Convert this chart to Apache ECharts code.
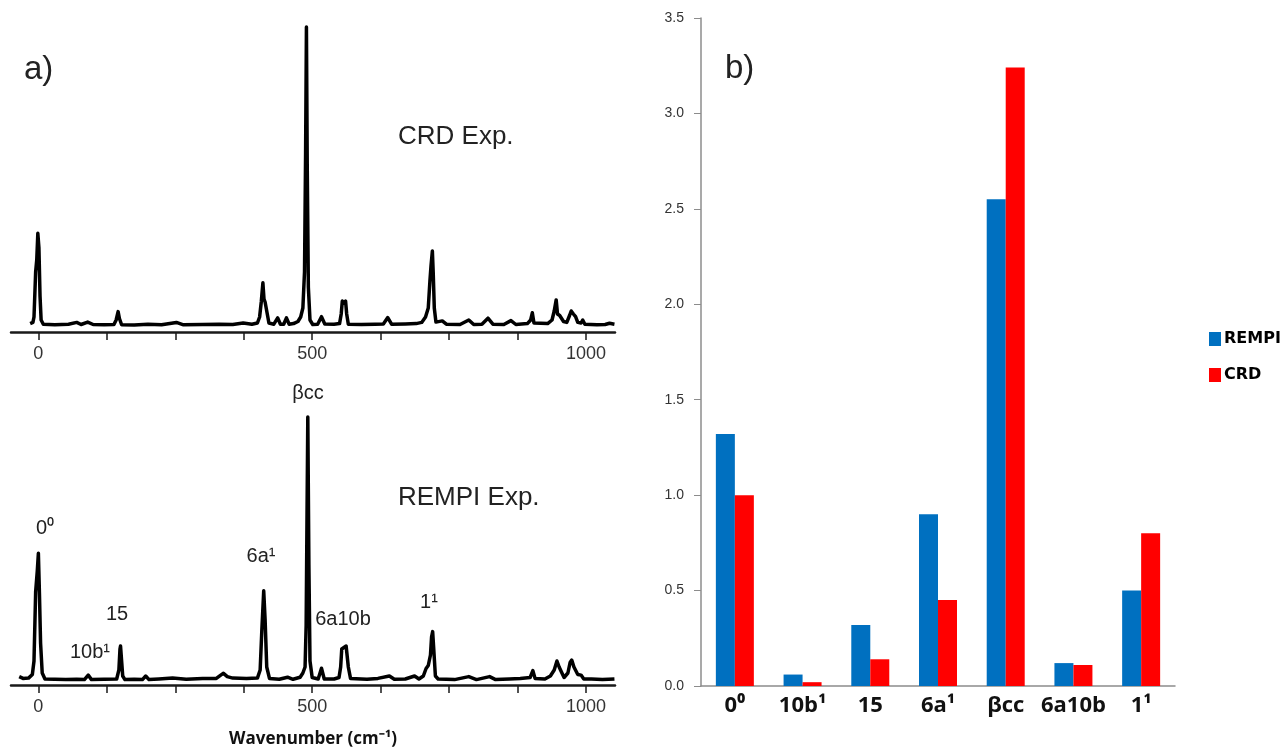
<!DOCTYPE html>
<html>
<head>
<meta charset="utf-8">
<script src="https://cdn.jsdelivr.net/npm/echarts@6/dist/echarts.min.js"></script>
<style>
html,body{margin:0;padding:0;background:#fff;}
#chart{width:1283px;height:755px;}
</style>
</head>
<body>
<div id="chart"></div>
<script>
// ---------- Panel a) spectra: [wavenumber (cm-1), intensity (a.u.)] ----------
const crdSpectrum = [
[-15,2.8],[-10,3.2],[-8,5],[-5,20],[-3,24],[-1,32.9],[1,28],[3,12],[5,4],[9,2.6],
[30,2.4],[55,2.6],[70,3.2],[78,2.5],[90,3.3],[100,2.5],[120,2.4],
[138,2.5],[142,4],[145.6,6.8],[148,4.5],[152,2.4],
[175,2.3],[200,2.6],[225,2.4],[252,3.2],[265,2.4],[300,2.5],[330,2.6],[355,2.5],[374,3],[390,2.6],
[400,3],[404,5],[407,10],[410,16.4],[412,11],[414,10],[416,10.5],[418,6],[421,3],
[430,2.6],[437,4.7],[442,2.6],[448,2.6],[453,4.7],[458,2.6],[466,2.8],
[474,3.5],[479,5],[483,8],[486,20],[488,60],[489.5,101.7],[491,55],[493,15],[496,4],[501,2.5],
[510,2.6],[517,5.1],[523,2.7],[540,2.6],[550,2.8],[553,6],[555,10.3],[558,9.6],[561,10.3],[563,6],[566,2.6],
[590,2.5],[615,2.6],[630,2.7],[638,4.8],[645,2.6],[670,2.7],[690,2.8],[700,3.2],
[707,5],[712,8],[715,17],[717,22],[719.5,27],[721,20],[723,8],[726,3.3],
[737.6,3.7],[745,2.6],[770,2.5],[786,4],[795,2.5],[810,2.6],[821,4.6],[830,2.6],[850,2.5],[863,3.8],[872,2.5],
[893,2.8],[899,4],[902,6.4],[905,3],
[930,2.8],[938,4],[942,7],[945.6,10.7],[948,6],[952,5.5],[955,5.1],[959,3.5],[965,3.2],[970,5.5],[973,7],[977,6],[981,5.1],[985,3.2],[991,3],[994,4],[998,2.6],
[1020,2.4],[1035,2.5],[1043,2.9],[1052,2.6]
];
const rempiSpectrum = [
[-35,2.8],[-28,2.2],[-18,2.3],[-11,3.5],[-8,8],[-5,31],[-2,38],[0,43.9],[2,30],[4,14],[7,4],[12,2],
[30,1.9],[50,1.8],[70,1.9],[84,1.8],[91,3.3],[97,1.8],[120,1.9],
[143,2],[147,5],[149,12],[150,13],[152,8],[154,3],[158,1.8],
[175,1.9],[190,1.8],[196,3],[202,1.8],[220,2],[245,2.3],[270,1.9],[300,2.2],[325,2.2],[333,3.3],[338,3.9],[345,2.8],[355,2.3],[380,2.2],
[400,2.3],[405,5],[408,18],[411.5,31.4],[414,22],[417,6],[422,2.2],
[440,1.9],[455,2.6],[465,1.9],[478,2.6],[483,4],[487,6],[489,20],[492,89.3],[494,40],[496,8],[500,2.5],
[511,2],[517,5.6],[522,2],[540,2],[549,2.5],[552,6],[554,12],[558,12.5],[562,13],[566,6],[570,2.2],
[600,1.9],[620,2.2],[641,3],[650,1.9],[670,2],[687,3],[695,2],[703,3],[708,5.5],[712,6.5],[716,10],[718,16],[720,17.8],[722,12],[725,3],[730,2],
[760,1.8],[786,2.8],[800,1.8],[824,2.8],[835,1.8],[860,2],[880,2.2],[898,2.5],[903,4.8],[907,2.2],
[925,2],[935,3],[942,5],[947,8],[951,6],[955,4.4],[960,2.5],[967,4],[971,7.5],[974,8.3],[978,6],[985,3.5],[991,3.3],[996,2],
[1010,2],[1030,1.8],[1052,2]
];
const spectrumTickValues = [0,125,250,375,500,625,750,875,1000];
const spectrumLabelValues = [0,500,1000];

// ---------- Panel b) bar chart ----------
const bandCategories = ['0⁰','10b¹','15','6a¹','βcc','6a10b','1¹'];
const rempiValues = [1.32,0.06,0.32,0.90,2.55,0.12,0.50];
const crdValues   = [1.00,0.02,0.14,0.45,3.24,0.11,0.80];

const chart = echarts.init(document.getElementById('chart'), null, {renderer:'canvas'});

const specAxis = (gridIndex, withName) => ({
  type:'value', gridIndex, min:-50, max:1053,
  axisLine:{show:true, onZero:false, lineStyle:{color:'#1a1a1a', width:2.5}},
  axisTick:{show:true, length:8, customValues:spectrumTickValues, lineStyle:{color:'#1a1a1a', width:1.5}},
  axisLabel:{show:true, customValues:spectrumLabelValues, margin:13, fontSize:18, color:'#333',
             fontFamily:'Liberation Sans', formatter:v=>String(v)},
  splitLine:{show:false},
  name: withName ? 'Wavenumber (cm⁻¹)' : '',
  nameLocation:'middle', nameGap:46,
  nameTextStyle:{fontFamily:'Open Sans', fontWeight:'bold', fontSize:17, color:'#111'}
});
const specYAxis = (gridIndex) => ({
  type:'value', gridIndex, min:0, max:104, show:false
});

const txt = (x, y, text, size, align) => ({
  type:'text', x, y,
  style:{text, fontSize:size, fontFamily:'Liberation Sans', fill:'#222', align: align||'center', verticalAlign:'middle'}
});

chart.setOption({
  animation:false,
  backgroundColor:'#fff',
  grid:[
    {left:11, right:668, top:20, bottom:423},
    {left:11, right:668, top:373, bottom:70},
    {left:701, right:108, top:18, bottom:69}
  ],
  xAxis:[
    specAxis(0,false),
    specAxis(1,true),
    {
      type:'category', gridIndex:2, data:bandCategories,
      axisLine:{lineStyle:{color:'#8c8c8c', width:1.5}},
      axisTick:{length:6, lineStyle:{color:'#8c8c8c', width:1.5}},
      axisLabel:{interval:0, hideOverlap:false, margin:9, fontSize:22, fontWeight:'bold', fontFamily:'Open Sans', color:'#111'}
    }
  ],
  yAxis:[
    specYAxis(0),
    specYAxis(1),
    {
      type:'value', gridIndex:2, min:0, max:3.5, interval:0.5,
      axisLine:{show:true, lineStyle:{color:'#8c8c8c', width:1.5}},
      axisTick:{show:true, length:7, lineStyle:{color:'#8c8c8c', width:1}},
      splitLine:{show:false},
      axisLabel:{margin:17, fontSize:14, color:'#333', fontFamily:'Liberation Sans', formatter:v=>v.toFixed(1)}
    }
  ],
  legend:{
    orient:'vertical', left:1204, top:326, itemWidth:12, itemHeight:14, itemGap:20,
    icon:'rect',
    data:['REMPI','CRD'],
    textStyle:{fontFamily:'DejaVu Sans', fontWeight:'bold', fontSize:16, color:'#000', padding:[0,0,0,-2]}
  },
  series:[
    {type:'line', xAxisIndex:0, yAxisIndex:0, data:crdSpectrum, showSymbol:false, symbol:'none',
     lineStyle:{color:'#000', width:3.5, join:'round'}},
    {type:'line', xAxisIndex:1, yAxisIndex:1, data:rempiSpectrum, showSymbol:false, symbol:'none',
     lineStyle:{color:'#000', width:3.5, join:'round'}},
    {name:'REMPI', type:'bar', xAxisIndex:2, yAxisIndex:2, data:rempiValues, barWidth:19, barGap:'0%',
     itemStyle:{color:'#0070C0'}},
    {name:'CRD', type:'bar', xAxisIndex:2, yAxisIndex:2, data:crdValues, barWidth:19, barGap:'0%',
     itemStyle:{color:'#FF0000'}}
  ],
  graphic:[
    txt(24, 70, 'a)', 33, 'left'),
    txt(725, 69, 'b)', 33, 'left'),
    txt(398, 137, 'CRD Exp.', 26, 'left'),
    txt(398, 498, 'REMPI Exp.', 26, 'left'),
    txt(308, 393, 'βcc', 20),
    txt(45, 528, '0⁰', 20),
    txt(261, 556, '6a¹', 20),
    txt(117, 614, '15', 20),
    txt(90, 652, '10b¹', 20),
    txt(343, 619, '6a10b', 20),
    txt(429, 602, '1¹', 20)
  ]
});
</script>
</body>
</html>
